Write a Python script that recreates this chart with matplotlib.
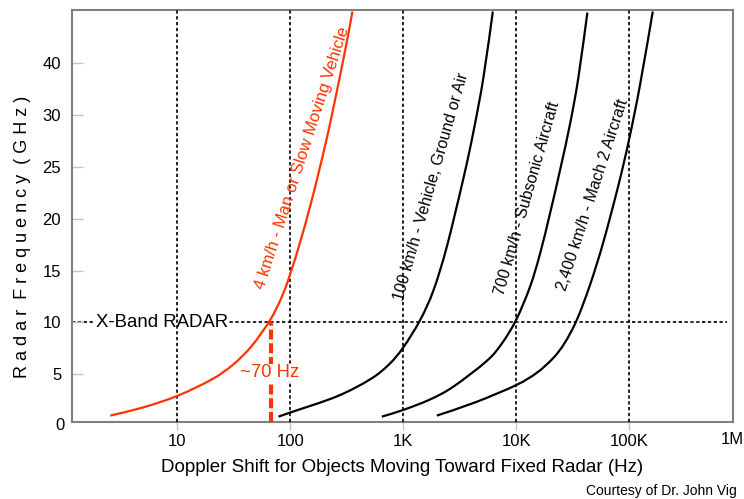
import numpy as np
import matplotlib
matplotlib.use("Agg")
from matplotlib import pyplot as plt
from matplotlib.ticker import NullLocator
from matplotlib.path import Path
from matplotlib.patches import PathPatch

plt.rcParams['font.family'] = ['Liberation Sans', 'DejaVu Sans']

# courbes : decalage Doppler (Hz) / frequence radar (GHz)
v4_hz = [2.54, 5.0, 10, 20.2, 31.3, 45.6, 66.2, 84.1, 99.6, 122, 150, 177, 210, 241, 276, 316, 355]
v4_ghz = [1.0, 1.8, 2.91, 4.5, 5.95, 7.74, 10.23, 12.48, 14.65, 17.73, 21.24, 24.34, 27.74, 31.5, 37.7, 44.1, 50.0]

v100_hz = [78.5, 100, 258, 509, 750, 1004, 1413, 1854, 2433, 3414, 4188, 5130, 6220]
v100_ghz = [0.9, 1.3, 2.85, 4.5, 5.95, 7.6, 10.23, 13.1, 17.3, 23.9, 28.4, 37.2, 50.0]

v700_hz = [646, 1004, 1730, 2785, 5500, 7500, 10000, 13300, 16300, 20000, 24500, 30100, 35600, 42800]
v700_ghz = [0.9, 1.55, 2.56, 3.8, 6.28, 7.98, 10.23, 13.45, 16.62, 20.54, 24.68, 29.18, 37.2, 49.8]

v2400_hz = [1985, 4400, 10000, 15240, 21400, 27000, 34500, 45200, 59300, 80500, 100000, 125000, 162500]
v2400_ghz = [1.0, 2.3, 3.94, 5.13, 6.57, 8.03, 10.23, 13.62, 17.75, 23.2, 27.6, 35.7, 50.0]

x_ticks = [10, 100, 1e3, 1e4, 1e5]
x_labels = ['10', '100', '1K', '10K', '100K']
y_ticks = [5, 10, 15, 20, 25, 30, 40]

xband_ghz = 10
xband_end_hz = 7.4e5
marker_hz = 67

red = '#ff3300'
tick_blue = '#a6cbeb'


# axe vertical : lineaire jusqu'a 30, puis comprime (10 GHz par graduation)
def fwd(y):
    y = np.asarray(y, dtype=float)
    return np.where(y <= 30, y, 30 + (y - 30) / 2)


def inv(d):
    d = np.asarray(d, dtype=float)
    return np.where(d <= 30, d, 30 + (d - 30) * 2)


# trace lisse (Catmull-Rom -> Bezier) passant par les points lus
def smooth_path(xs, ys):
    pts = np.column_stack([np.log10(xs), fwd(ys)])
    n = len(pts)
    verts = [pts[0]]
    codes = [Path.MOVETO]
    for i in range(n - 1):
        p0 = pts[i - 1] if i > 0 else pts[i]
        p1 = pts[i]
        p2 = pts[i + 1]
        p3 = pts[i + 2] if i + 2 < n else pts[i + 1]
        verts += [p1 + (p2 - p0) / 6, p2 - (p3 - p1) / 6, p2]
        codes += [Path.CURVE4] * 3
    verts = np.array(verts)
    verts[:, 0] = 10 ** verts[:, 0]
    verts[:, 1] = inv(verts[:, 1])
    return Path(verts, codes)


fig = plt.figure(figsize=(7.44, 4.99), dpi=100)
ax = fig.add_axes([0.0972, 0.1549, 0.8884, 0.8251])
ax.set_xscale('log')
ax.set_yscale('function', functions=(fwd, inv))
ax.set_xlim(1.17, 8.4e5)
ax.set_ylim(0.41, 50.3)

for s in ax.spines.values():
    s.set_color('#808080')
    s.set_linewidth(1.5)

ax.set_xticks(x_ticks)
ax.set_xticklabels(x_labels)
ax.xaxis.set_minor_locator(NullLocator())
ax.set_yticks(y_ticks)
ax.set_yticklabels([str(t) for t in y_ticks])
ax.yaxis.set_minor_locator(NullLocator())
ax.tick_params(axis='x', direction='out', length=6, width=1, color=tick_blue,
               labelsize=12, pad=3)
ax.tick_params(axis='y', direction='in', length=8, width=1, color=tick_blue,
               labelsize=12, pad=8)

# labels hors limites
ax.text(-0.012, 0, '0', transform=ax.get_yaxis_transform(), ha='right', va='center',
        fontsize=12, clip_on=False)
fig.text(732 / 744, 1 - 440 / 499, '1M', ha='center', va='center', fontsize=12)

# grille verticale pointillee
for t in x_ticks:
    ax.axvline(t, color='black', lw=1.2, ls=(0, (2, 1.5)), zorder=3)

# ligne bande X
ax.plot([1.17, xband_end_hz], [xband_ghz, xband_ghz], color='black', lw=1.2,
        ls=(0, (2, 1.5)), zorder=1)
ax.text(1.9, xband_ghz, 'X-Band RADAR', fontsize=13.4, ha='left', va='center',
        bbox=dict(facecolor='white', edgecolor='none', pad=0.5), zorder=2)

# courbes
for xs, ys, c in [(v4_hz, v4_ghz, red), (v100_hz, v100_ghz, 'black'),
                  (v700_hz, v700_ghz, 'black'), (v2400_hz, v2400_ghz, 'black')]:
    ax.add_patch(PathPatch(smooth_path(xs, ys), fill=False, edgecolor=c, lw=1.6,
                           zorder=4, capstyle='butt'))

ax.plot([marker_hz, marker_hz], [0.41, xband_ghz], color=red, lw=3,
        ls=(0, (2.4, 0.9)), zorder=4, clip_on=False)
ax.text(65.8, 5.16, '~70 Hz', color=red, fontsize=13.3, ha='center', va='center',
        bbox=dict(facecolor='white', edgecolor='none', pad=0.3), zorder=5)

ax.text(127, 25.9, '4 km/h - Man or Slow Moving Vehicle', color=red, fontsize=12,
        rotation=72, rotation_mode='anchor', ha='center', va='center')
ax.text(1766, 23.1, '100 km/h - Vehicle, Ground or Air', fontsize=11.5,
        rotation=74, rotation_mode='anchor', ha='center', va='center')
ax.text(12450, 22.0, '700 km/h - Subsonic Aircraft', fontsize=11.5,
        rotation=74, rotation_mode='anchor', ha='center', va='center')
ax.text(47600, 22.3, '2,400 km/h - Mach 2 Aircraft', fontsize=11.5,
        rotation=72, rotation_mode='anchor', ha='center', va='center')

fig.text(0.0296, 0.525, 'R a d a r  F r e q u e n c y  ( G H z )', rotation=90,
         fontsize=13, ha='center', va='center')
fig.text(402 / 744, 0.064, 'Doppler Shift for Objects Moving Toward Fixed Radar (Hz)',
         fontsize=13.5, ha='center', va='center')
fig.text(0.99, 0.016, 'Courtesy of Dr. John Vig', fontsize=10, ha='right', va='center')

fig.savefig('out.png', dpi=100)
